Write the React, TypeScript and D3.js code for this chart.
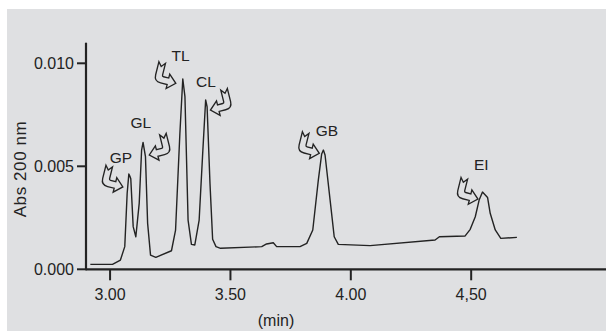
import * as d3 from "d3";

// chromatogram trace (min, absorbance at 200 nm)
const times = [
  2.918, 3.01, 3.043, 3.061, 3.071, 3.078, 3.082, 3.086, 3.096, 3.107, 3.121, 3.131, 3.137, 3.147,
  3.156, 3.168, 3.19, 3.255, 3.272, 3.29, 3.302, 3.311, 3.324, 3.338, 3.352, 3.37, 3.384, 3.397,
  3.403, 3.415, 3.426, 3.44, 3.459, 3.63, 3.65, 3.678, 3.692, 3.789, 3.817, 3.842, 3.865, 3.879,
  3.886, 3.893, 3.914, 3.931, 3.948, 4.08, 4.35, 4.368, 4.475, 4.496, 4.517, 4.533, 4.547, 4.568,
  4.579, 4.6, 4.623, 4.69,
];
const absorb = [
  0.00024, 0.00024, 0.00045, 0.0011, 0.00369, 0.00463, 0.00453, 0.0044, 0.00207, 0.00158, 0.0032,
  0.00579, 0.00616, 0.00547, 0.00223, 0.00069, 0.00058, 0.0009, 0.0019, 0.0066, 0.00924, 0.00838,
  0.00239, 0.00121, 0.00118, 0.00239, 0.00547, 0.00822, 0.00789, 0.00417, 0.00146, 0.0011, 0.00102,
  0.0011, 0.00123, 0.00129, 0.0011, 0.0011, 0.00126, 0.00191, 0.00433, 0.0056, 0.00579, 0.00555,
  0.00336, 0.00158, 0.00121, 0.00115, 0.00142, 0.00158, 0.00162, 0.00194, 0.00255, 0.00336, 0.00375,
  0.00349, 0.00272, 0.00191, 0.0015, 0.00155,
];

const xTicks = [3, 3.5, 4, 4.5];
const xTickLabels = ["3.00", "3.50", "4.00", "4,50"];
const yTicks = [0, 0.005, 0.01];
const yTickLabels = ["0.000", "0.005", "0.010"];

// peak names, label anchor and arrow tip (data units), arrow direction
const peakNames = ["GP", "GL", "TL", "CL", "GB", "EI"];
const labelT = [3.045, 3.128, 3.293, 3.398, 3.901, 4.542];
const labelV = [0.00516, 0.00686, 0.01011, 0.00887, 0.00647, 0.00482];
const tipT = [3.053, 3.163, 3.273, 3.417, 3.869, 4.528];
const tipV = [0.004, 0.00555, 0.00903, 0.00773, 0.00563, 0.00341];
const mirrored = [false, true, false, true, false, false];

const W = 606;
const H = 331;
const font = "'Liberation Sans', Arial, Helvetica, sans-serif";
const ink = "#232323";

// hollow bent arrow, tail notch at top, head at (16,12.5)
const arrowPath =
  "M0,0 L2.5,3 L5,0 L5,9 Q5,10 6,10 L10,10 L10,7 L16,12.5 L10,18 L10,15 L5,15 Q0,15 0,10 Z";

export default function App() {
  const x = d3.scaleLinear().domain([2.9, 5.06]).range([86, 606]);
  const y = d3.scaleLinear().domain([0, 0.011]).range([269.3, 42.7]);

  const pts: [number, number][] = times.map((t, i) => [t, absorb[i]]);
  const line = d3
    .line<[number, number]>()
    .x((d) => x(d[0]))
    .y((d) => y(d[1]));

  const x0 = x(2.9);
  const y0 = y(0);

  return (
    <svg
      width={W}
      height={H}
      viewBox={`0 0 ${W} ${H}`}
      style={{ position: "fixed", left: 0, top: 0, display: "block" }}
    >
      <rect x={0} y={0} width={W} height={H} fill="#fff" />
      <rect x={7} y={9} width={W - 7} height={H - 9} fill="#dfe0e2" />

      {/* trace */}
      <path d={line(pts) ?? ""} fill="none" stroke={ink} strokeWidth={1.4} strokeLinejoin="round" />

      {/* axes */}
      <line x1={x0} x2={W} y1={y0} y2={y0} stroke={ink} strokeWidth={2.2} />
      <line x1={x0} x2={x0} y1={y(0.011)} y2={y0 + 1} stroke={ink} strokeWidth={2.2} />

      {yTicks.map((v, i) => (
        <g key={`y${i}`}>
          <line x1={x0 - 9} x2={x0} y1={y(v)} y2={y(v)} stroke={ink} strokeWidth={2} />
          <text
            x={x0 - 12}
            y={y(v) + 5.8}
            textAnchor="end"
            fontSize={16}
            fontFamily={font}
            fill={ink}
          >
            {yTickLabels[i]}
          </text>
        </g>
      ))}

      {xTicks.map((t, i) => (
        <g key={`x${i}`}>
          <line x1={x(t)} x2={x(t)} y1={y0} y2={y0 + 11} stroke={ink} strokeWidth={2} />
          <text x={x(t)} y={300} textAnchor="middle" fontSize={16} fontFamily={font} fill={ink}>
            {xTickLabels[i]}
          </text>
        </g>
      ))}

      <text x={276} y={326} textAnchor="middle" fontSize={16} fontFamily={font} fill={ink}>
        (min)
      </text>
      <text
        transform={`translate(26,169) rotate(-90)`}
        textAnchor="middle"
        fontSize={17}
        letterSpacing={0.6}
        fontFamily={font}
        fill={ink}
      >
        Abs 200 nm
      </text>

      {/* peak labels and arrows */}
      {peakNames.map((name, i) => (
        <g key={name}>
          <text
            x={x(labelT[i])}
            y={y(labelV[i])}
            textAnchor="middle"
            fontSize={15.5}
            fontFamily={font}
            fill={ink}
          >
            {name}
          </text>
          <path
            d={arrowPath}
            transform={`translate(${x(tipT[i])},${y(tipV[i])}) scale(${mirrored[i] ? -1 : 1},1) rotate(14) scale(1.35) translate(-16,-12.5)`}
            fill="none"
            stroke={ink}
            strokeWidth={1}
            strokeLinejoin="miter"
          />
        </g>
      ))}
    </svg>
  );
}
